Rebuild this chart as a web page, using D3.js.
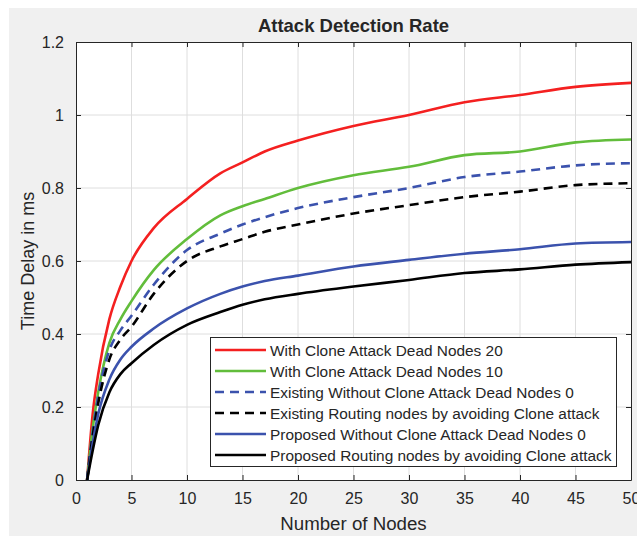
<!DOCTYPE html>
<html>
<head>
<meta charset="utf-8">
<script src="https://cdn.jsdelivr.net/npm/d3@7"></script>
<style>
  body { margin: 0; background: #fff; }
  text { font-family: "Liberation Sans", Arial, sans-serif; fill: #262626; }
</style>
</head>
<body>
<svg id="chart" width="637" height="536"></svg>
<script>
// x positions where the curves were read
let nodes = [1, 1.5, 2, 3, 4, 5, 7, 10, 13, 15, 17, 20, 25, 30, 35, 40, 45, 50];

let red20 =      [0, 0.18, 0.29, 0.44, 0.53, 0.60, 0.69, 0.77, 0.84, 0.87, 0.90, 0.93, 0.97, 1.00, 1.035, 1.055, 1.077, 1.088];
let green10 =    [0, 0.14, 0.24, 0.375, 0.44, 0.49, 0.575, 0.66, 0.725, 0.75, 0.77, 0.80, 0.835, 0.858, 0.89, 0.90, 0.925, 0.933];
let existBlue =  [0, 0.13, 0.23, 0.355, 0.41, 0.45, 0.535, 0.63, 0.675, 0.70, 0.72, 0.745, 0.775, 0.80, 0.83, 0.845, 0.862, 0.868];
let existBlack = [0, 0.12, 0.21, 0.33, 0.385, 0.42, 0.51, 0.60, 0.64, 0.66, 0.68, 0.70, 0.73, 0.753, 0.775, 0.79, 0.808, 0.813];
let propBlue =   [0, 0.10, 0.18, 0.275, 0.33, 0.365, 0.415, 0.47, 0.51, 0.53, 0.545, 0.56, 0.585, 0.603, 0.62, 0.632, 0.648, 0.652];
let propBlack =  [0, 0.08, 0.15, 0.24, 0.29, 0.32, 0.37, 0.425, 0.46, 0.48, 0.495, 0.51, 0.53, 0.548, 0.567, 0.577, 0.59, 0.597];

let labels = [
    "With Clone Attack Dead Nodes 20",
    "With Clone Attack Dead Nodes 10",
    "Existing Without Clone Attack Dead Nodes 0",
    "Existing Routing nodes by avoiding Clone attack",
    "Proposed Without Clone Attack Dead Nodes 0",
    "Proposed Routing nodes by avoiding Clone attack"
];

let xTicks = [0, 5, 10, 15, 20, 25, 30, 35, 40, 45, 50];
let yTicks = [0, 0.2, 0.4, 0.6, 0.8, 1, 1.2];
let yTickLabels = ["0", "0.2", "0.4", "0.6", "0.8", "1", "1.2"];

let series = [
    { name: labels[0], values: red20, color: "#f42020", dash: null },
    { name: labels[1], values: green10, color: "#62bd3b", dash: null },
    { name: labels[2], values: existBlue, color: "#3b52ad", dash: "9,6" },
    { name: labels[3], values: existBlack, color: "#000000", dash: "9,6" },
    { name: labels[4], values: propBlue, color: "#3b52ad", dash: null },
    { name: labels[5], values: propBlack, color: "#000000", dash: null }
];

const svg = d3.select("#chart");
const pLeft = 76, pRight = 631, pTop = 42, pBottom = 480;

// figure background
svg.append("rect").attr("x", 9).attr("y", 8).attr("width", 628).attr("height", 528).attr("fill", "#f0f0f0");
svg.append("rect").attr("x", pLeft).attr("y", pTop).attr("width", pRight - pLeft).attr("height", pBottom - pTop).attr("fill", "#fff");

let x = d3.scaleLinear().domain([0, 50]).range([pLeft, pRight]);
let y = d3.scaleLinear().domain([0, 1.2]).range([pBottom, pTop]);

// grid
svg.append("g").selectAll("line").data(xTicks.slice(1, -1)).enter().append("line")
    .attr("x1", d => x(d)).attr("x2", d => x(d)).attr("y1", pTop).attr("y2", pBottom)
    .attr("stroke", "#dedede").attr("stroke-width", 1);
svg.append("g").selectAll("line").data(yTicks.slice(1, -1)).enter().append("line")
    .attr("y1", d => y(d)).attr("y2", d => y(d)).attr("x1", pLeft).attr("x2", pRight)
    .attr("stroke", "#dedede").attr("stroke-width", 1);

// axes, ticks pointing inward on all four sides
let axisStyle = g => {
    g.select(".domain").attr("stroke", "#262626");
    g.selectAll(".tick line").attr("stroke", "#262626");
    g.selectAll(".tick text").style("font-size", "16px").attr("fill", "#262626");
};
svg.append("g").attr("transform", `translate(0,${pBottom})`)
    .call(d3.axisBottom(x).tickValues(xTicks).tickSizeInner(-5).tickSizeOuter(0).tickPadding(13))
    .call(axisStyle);
svg.append("g").attr("transform", `translate(0,${pTop})`)
    .call(d3.axisTop(x).tickValues(xTicks).tickSizeInner(-5).tickSizeOuter(0).tickFormat(""))
    .call(axisStyle);
svg.append("g").attr("transform", `translate(${pLeft},0)`)
    .call(d3.axisLeft(y).tickValues(yTicks).tickSizeInner(-5).tickSizeOuter(0).tickPadding(12)
        .tickFormat((d, i) => yTickLabels[i]))
    .call(axisStyle);
svg.append("g").attr("transform", `translate(${pRight},0)`)
    .call(d3.axisRight(y).tickValues(yTicks).tickSizeInner(-5).tickSizeOuter(0).tickFormat(""))
    .call(axisStyle);

// curves
let line = d3.line()
    .x((d, i) => x(nodes[i]))
    .y(d => y(d))
    .curve(d3.curveMonotoneX);

svg.append("g").selectAll("path").data(series).enter().append("path")
    .attr("d", d => line(d.values))
    .attr("fill", "none")
    .attr("stroke", d => d.color)
    .attr("stroke-width", 2.6)
    .attr("stroke-dasharray", d => d.dash);

// title and axis labels
svg.append("text").attr("x", (pLeft + pRight) / 2).attr("y", 32).attr("text-anchor", "middle")
    .style("font-size", "18.5px").style("font-weight", "bold").attr("fill", "#000")
    .text("Attack Detection Rate");
svg.append("text").attr("x", (pLeft + pRight) / 2).attr("y", 530).attr("text-anchor", "middle")
    .style("font-size", "18.7px").text("Number of Nodes");
svg.append("text").attr("transform", `translate(34,${(pTop + pBottom) / 2}) rotate(-90)`)
    .attr("text-anchor", "middle").style("font-size", "18px").text("Time Delay in ms");

// legend
let legend = svg.append("g");
legend.append("rect").attr("x", 210.5).attr("y", 337.5).attr("width", 406).attr("height", 129)
    .attr("fill", "#fff").attr("stroke", "#262626").attr("stroke-width", 1);
let rows = legend.selectAll("g").data(series).enter().append("g")
    .attr("transform", (d, i) => `translate(0,${350 + i * 21})`);
rows.append("line").attr("x1", 215).attr("x2", 266).attr("y1", 0).attr("y2", 0)
    .attr("stroke", d => d.color).attr("stroke-width", 2.6)
    .attr("stroke-dasharray", d => d.dash);
rows.append("text").attr("x", 270).attr("y", 5.5).style("font-size", "15.4px").attr("fill", "#000")
    .text(d => d.name);
</script>
</body>
</html>
